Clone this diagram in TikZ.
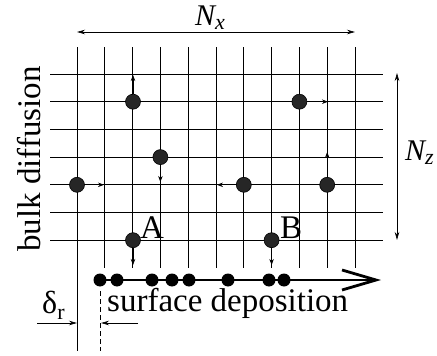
\documentclass[tikz,border=0pt]{standalone}
\usepackage{fontspec}
\setmainfont{Liberation Serif}
\usetikzlibrary{arrows.meta}
\begin{document}
\begin{tikzpicture}[x=1pt,y=-1pt,
  gridline/.style={line width=0.85pt},
  hop/.style={line width=0.7pt,-{Stealth[length=6pt,width=4.5pt]}},
  atom/.style={circle,fill=black!85,draw=black,line width=0.6pt,minimum size=15pt,inner sep=0pt},
  dep/.style={circle,fill=black,minimum size=13pt,inner sep=0pt},
  dim/.style={line width=0.7pt,{Stealth[length=8pt,width=4.5pt]}-{Stealth[length=8pt,width=4.5pt]}},
  lbl/.style={font=\fontsize{33}{36}\selectfont,inner sep=0pt}]
\useasboundingbox (0,0) rectangle (437,356);
% grid
\foreach \i in {1,...,10} \draw[gridline] ({77+27.8*\i},47) -- ({77+27.8*\i},268);
\draw[gridline] (77,47) -- (77,351);
\foreach \j in {0,...,6} \draw[gridline] (50,{74+27.7*\j}) -- (383,{74+27.7*\j});
% dimension arrows
\coordinate (nxl) at (77,32);
\coordinate (nxr) at (355,32);
\draw[dim] (nxl) -- (nxr);
\node[anchor=base west,inner sep=0pt] (nx) at (195,25) {\fontsize{30}{32}\selectfont\itshape N\raisebox{-5pt}{\fontsize{22}{24}\selectfont x}};
\coordinate (nzt) at (397,73);
\coordinate (nzb) at (397,240);
\draw[dim] (nzt) -- (nzb);
\node[anchor=base west,inner sep=0pt] (nz) at (405,160) {\fontsize{30}{32}\selectfont\itshape N\raisebox{-4pt}{\fontsize{22}{24}\selectfont z}};
% bulk particles
\node[atom] (p1) at (133,101.7) {};
\node[atom] (p2) at (160.4,157.1) {};
\node[atom] (p3) at (299.4,101.7) {};
\node[atom] (p4) at (77,184.8) {};
\node[atom] (p5) at (243.8,184.8) {};
\node[atom] (p6) at (327.2,184.8) {};
\node[atom] (pa) at (133,240.2) {};
\node[atom] (pb) at (271.6,240.2) {};
\coordinate (t1) at (133,75);
\coordinate (t2) at (160.4,182);
\coordinate (t3) at (328,101.7);
\coordinate (t4) at (104,184.8);
\coordinate (t5) at (217,184.8);
\coordinate (t6) at (327.2,152);
\coordinate (ta) at (133,265);
\coordinate (tb) at (271.6,265);
\draw[hop] (p1) -- (t1);
\draw[hop] (p2) -- (t2);
\draw[hop] (p3) -- (t3);
\draw[hop] (p4) -- (t4);
\draw[hop] (p5) -- (t5);
\draw[hop] (p6) -- (t6);
\draw[hop] (pa) -- (ta);
\draw[hop] (pb) -- (tb);
\node[lbl,anchor=base west] (la) at (140,238) {A};
\node[lbl,anchor=base west] (lb) at (280,238) {B};
% surface deposition
\coordinate (ds) at (100,280);
\coordinate (de) at (381,280);
\draw[line width=2.8pt,-{Straight Barb[length=34pt,width=20pt]}] (ds) -- (de);
\foreach \x in {100,117,152,172,189,228,269,284} \node[dep] at (\x,280) {};
\node[lbl,anchor=base west] (sd) at (107,311) {surface deposition};
\node[lbl,anchor=base west,rotate=90] (bd) at (40,252) {bulk diffusion};
% delta_r
\draw[line width=0.7pt,dash pattern=on 5pt off 3pt] (100,291) -- (100,351);
\coordinate (dl0) at (37,323);
\coordinate (dl1) at (77,323);
\coordinate (dr0) at (138,323);
\coordinate (dr1) at (101,323);
\draw[line width=0.7pt,-{Stealth[length=8pt,width=4.5pt]}] (dl0) -- (dl1);
\draw[line width=0.7pt,-{Stealth[length=8pt,width=4.5pt]}] (dr0) -- (dr1);
\node[anchor=base west,inner sep=0pt] (dr) at (42,313) {\fontsize{32}{34}\selectfont δ\raisebox{-6pt}{\fontsize{22}{24}\selectfont r}};
\end{tikzpicture}
\end{document}
